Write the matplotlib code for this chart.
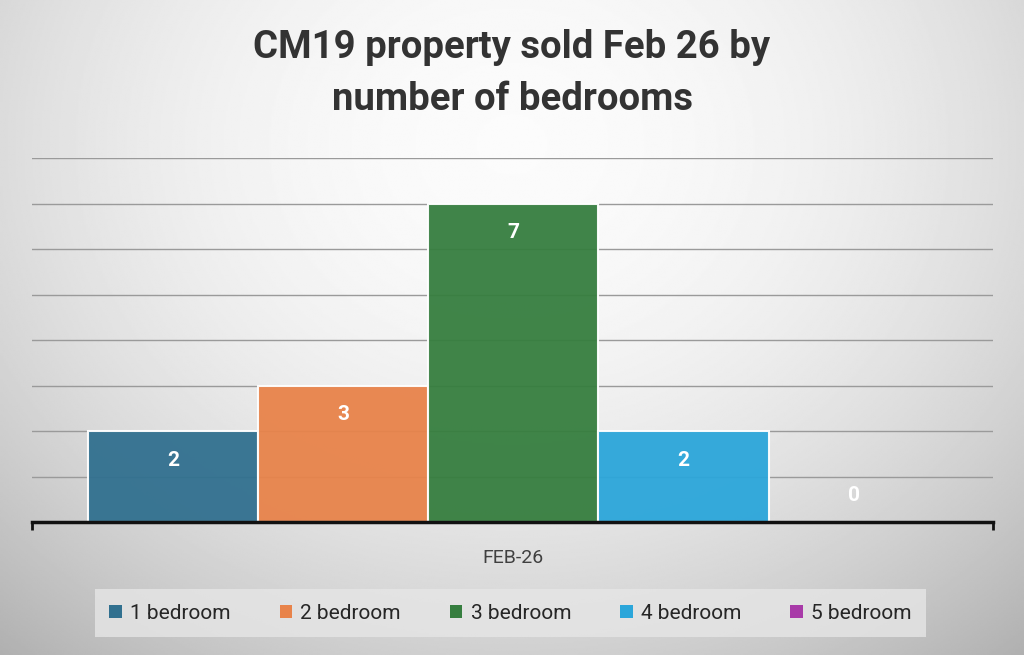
import numpy as np
import matplotlib
matplotlib.use("Agg")
import matplotlib.pyplot as plt
from matplotlib.patches import Patch

# Data
categories = ["1 bedroom", "2 bedroom", "3 bedroom", "4 bedroom", "5 bedroom"]
values = [2, 3, 7, 2, 0]
colors = ["#31708f", "#e8834a", "#367e3f", "#2ba6da", "#a83aa8"]
period_label = "FEB-26"
title = "CM19 property sold Feb 26 by\nnumber of bedrooms"

plt.rcParams['font.family'] = ['Roboto', 'DejaVu Sans']

fig = plt.figure(figsize=(10.24, 6.55), dpi=100)

# radial background gradient
bg = fig.add_axes([0, 0, 1, 1], zorder=0)
yy, xx = np.mgrid[0:1:400j, 0:1:600j]
r2 = ((xx - 0.5) / 0.75) ** 2 + ((yy - 0.78) / 1.0) ** 2
shade = np.clip(0.985 - 0.28 * r2, 0, 1)
bg.imshow(shade, cmap="gray", vmin=0, vmax=1, origin="lower",
          extent=[0, 1, 0, 1], aspect="auto", interpolation="bilinear")
bg.axis("off")

ax = fig.add_axes([0.03125, 0.203, 0.9385, 0.5557], zorder=1)
ax.patch.set_alpha(0)

x = np.arange(len(values))
bars = ax.bar(x, values, width=1.0, color=colors, edgecolor="white",
              linewidth=1.5, alpha=0.95, zorder=2)

for xi, v in zip(x, values):
    if v > 0:
        ax.annotate(str(v), (xi, v), xytext=(0, -21), textcoords="offset points",
                    ha="center", va="center", color="white",
                    fontsize=15, fontweight="bold", zorder=4)
    else:
        ax.annotate(str(v), (xi, v), xytext=(0, 19), textcoords="offset points",
                    ha="center", va="center", color="white",
                    fontsize=15, fontweight="bold", zorder=4)

xmin, xmax = -0.83, 4.82
ax.set_xlim(xmin, xmax)
ax.set_ylim(0, 8)
ax.set_yticks(np.arange(1, 9))
ax.yaxis.grid(True, color="#9a9a9a", linewidth=1.0, zorder=1)
ax.set_axisbelow(True)
ax.tick_params(axis="y", left=False, labelleft=False)
ax.set_xticks([xmin, xmax])
ax.set_xticklabels(["", ""])
ax.tick_params(axis="x", direction="out", length=6, width=2, color="#111111")
for s in ["top", "right", "left"]:
    ax.spines[s].set_visible(False)
ax.spines["bottom"].set_color("#111111")
ax.spines["bottom"].set_linewidth(2.5)
ax.spines["bottom"].set_zorder(5)

ax.text(0.5, -0.1, period_label, transform=ax.transAxes, ha="center",
        va="center", fontsize=14, color="#404040")

fig.text(0.5, 0.888, title, ha="center", va="center", fontsize=27.5,
         fontweight="bold", color="#333333", linespacing=1.5)

handles = [Patch(facecolor=c, edgecolor="none") for c in colors]
leg = fig.legend(handles, categories, ncol=5, loc="center",
                 bbox_to_anchor=(0.4985, 0.0635), frameon=True, fancybox=False,
                 fontsize=15, handlelength=0.6, handleheight=0.6,
                 handletextpad=0.4, columnspacing=2.35, borderpad=0.7,
                 labelcolor="#262626")
leg.get_frame().set_facecolor("#e6e6e6")
leg.get_frame().set_edgecolor("none")
leg.get_frame().set_alpha(0.8)

fig.savefig("out.png", dpi=100)
